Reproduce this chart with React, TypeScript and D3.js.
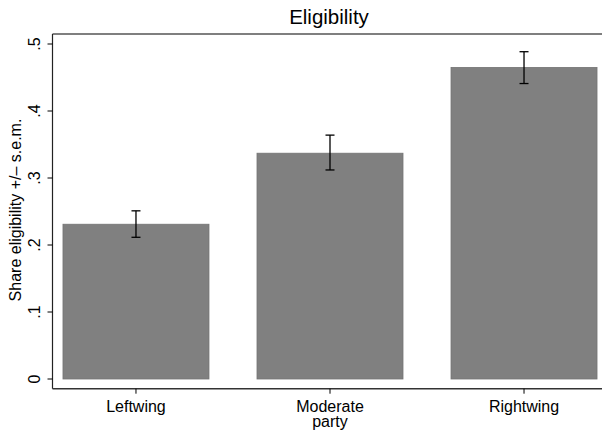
import React from 'react'
import * as d3 from 'd3'

const categories = ['Leftwing', 'Moderate party', 'Rightwing']
const shares = [0.231, 0.337, 0.465]
const lower = [0.2115, 0.312, 0.441]
const upper = [0.251, 0.364, 0.4885]
const yTicks = [0, 0.1, 0.2, 0.3, 0.4, 0.5]
const yTickLabels = ['0', '.1', '.2', '.3', '.4', '.5']

export default function App() {
  const width = 602
  const height = 431
  const left = 52.5
  const right = 602
  const top = 34
  const axisY = 388.7
  const font = 'Liberation Sans, Arial, Helvetica, sans-serif'

  const x = d3
    .scaleBand()
    .domain(categories)
    .range([38, 622])
    .paddingInner(0.33)
    .paddingOuter(0.17)

  const y = d3.scaleLinear().domain([0, 0.5]).range([379, 44])

  const centers = categories.map(c => (x(c) as number) + x.bandwidth() / 2)

  return (
    <svg
      width={width}
      height={height}
      style={{ position: 'absolute', left: 0, top: 0, background: '#fff' }}
      fontFamily={font}
    >
      <rect x={0} y={0} width={width} height={height} fill="#fff" />
      <text x={329} y={24} textAnchor="middle" fontSize={20.5} fill="#000">
        Eligibility
      </text>

      {/* bars */}
      {categories.map((c, i) => {
        const x0 = centers[i] - 73
        return (
          <rect
            key={c}
            x={x0}
            y={y(shares[i])}
            width={146}
            height={y(0) - y(shares[i])}
            fill="#808080"
            stroke="#737373"
            strokeWidth={0.8}
          />
        )
      })}

      {/* error bars */}
      {categories.map((c, i) => (
        <g key={c + '-err'} stroke="#000" strokeWidth={1.3}>
          <line x1={centers[i]} x2={centers[i]} y1={y(lower[i])} y2={y(upper[i])} />
          <line x1={centers[i] - 4.5} x2={centers[i] + 4.5} y1={y(lower[i])} y2={y(lower[i])} />
          <line x1={centers[i] - 4.5} x2={centers[i] + 4.5} y1={y(upper[i])} y2={y(upper[i])} />
        </g>
      ))}

      {/* frame */}
      <line x1={left} x2={right} y1={top} y2={top} stroke="#000" strokeWidth={1.2} />
      <line x1={left} x2={left} y1={top} y2={axisY} stroke="#222" strokeWidth={1.2} />
      <line x1={left} x2={right} y1={axisY} y2={axisY} stroke="#333" strokeWidth={1.6} />

      {/* y ticks */}
      {yTicks.map((t, i) => (
        <g key={t}>
          <line x1={left - 5} x2={left} y1={y(t)} y2={y(t)} stroke="#000" strokeWidth={1} />
          <text
            transform={`translate(39.5,${y(t)}) rotate(-90)`}
            textAnchor="middle"
            fontSize={16}
            fill="#000"
          >
            {yTickLabels[i]}
          </text>
        </g>
      ))}

      <text
        transform={`translate(21,210) rotate(-90)`}
        textAnchor="middle"
        fontSize={16}
        fill="#000"
      >
        Share eligibility +/– s.e.m.
      </text>

      {/* x ticks */}
      {categories.map((c, i) => {
        const words = c === 'Moderate party' ? ['Moderate', 'party'] : [c]
        return (
          <g key={c + '-tick'}>
            <line x1={centers[i]} x2={centers[i]} y1={axisY} y2={axisY + 5} stroke="#000" strokeWidth={1} />
            {words.map((w, j) => (
              <text key={w} x={centers[i]} y={411.5 + j * 15.5} textAnchor="middle" fontSize={16} fill="#000">
                {w}
              </text>
            ))}
          </g>
        )
      })}
    </svg>
  )
}
